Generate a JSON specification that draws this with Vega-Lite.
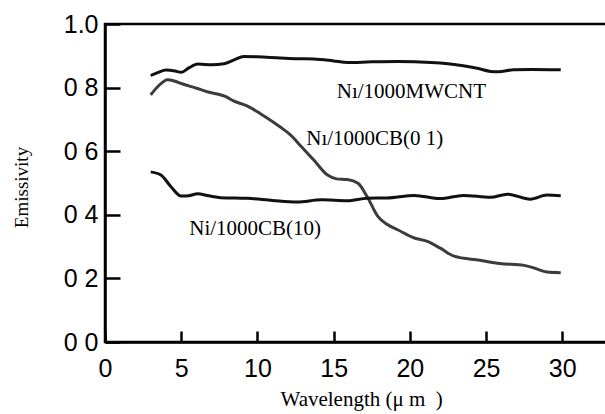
{
  "$schema": "https://vega.github.io/schema/vega-lite/v6.json",
  "autosize": "none",
  "width": 503,
  "height": 318,
  "padding": {"left": 105, "top": 24, "right": 0, "bottom": 72},
  "background": "white",
  "config": {"view": {"stroke": "black", "strokeWidth": 2.5}},
  "datasets": {
    "curves": [
      {"series": "MWCNT", "x": 3.0, "y": 0.838}, {"series": "MWCNT", "x": 3.5, "y": 0.848}, {"series": "MWCNT", "x": 4.0, "y": 0.855}, {"series": "MWCNT", "x": 4.6, "y": 0.852}, {"series": "MWCNT", "x": 5.0, "y": 0.848}, {"series": "MWCNT", "x": 5.5, "y": 0.862}, {"series": "MWCNT", "x": 6.1, "y": 0.874}, {"series": "MWCNT", "x": 7.0, "y": 0.872}, {"series": "MWCNT", "x": 7.8, "y": 0.875}, {"series": "MWCNT", "x": 8.5, "y": 0.888}, {"series": "MWCNT", "x": 9.1, "y": 0.898}, {"series": "MWCNT", "x": 10.0, "y": 0.897}, {"series": "MWCNT", "x": 11.5, "y": 0.893}, {"series": "MWCNT", "x": 12.5, "y": 0.891}, {"series": "MWCNT", "x": 13.7, "y": 0.89}, {"series": "MWCNT", "x": 15.0, "y": 0.884}, {"series": "MWCNT", "x": 15.9, "y": 0.879}, {"series": "MWCNT", "x": 17.5, "y": 0.881}, {"series": "MWCNT", "x": 19.2, "y": 0.882}, {"series": "MWCNT", "x": 21.4, "y": 0.879}, {"series": "MWCNT", "x": 22.5, "y": 0.875}, {"series": "MWCNT", "x": 23.5, "y": 0.869}, {"series": "MWCNT", "x": 24.5, "y": 0.86}, {"series": "MWCNT", "x": 25.3, "y": 0.851}, {"series": "MWCNT", "x": 25.8, "y": 0.85}, {"series": "MWCNT", "x": 26.8, "y": 0.856}, {"series": "MWCNT", "x": 28.0, "y": 0.857}, {"series": "MWCNT", "x": 29.9, "y": 0.856},
      {"series": "CB01", "x": 3.0, "y": 0.777}, {"series": "CB01", "x": 3.5, "y": 0.805}, {"series": "CB01", "x": 4.1, "y": 0.825}, {"series": "CB01", "x": 4.6, "y": 0.82}, {"series": "CB01", "x": 5.0, "y": 0.813}, {"series": "CB01", "x": 6.0, "y": 0.798}, {"series": "CB01", "x": 6.7, "y": 0.787}, {"series": "CB01", "x": 8.0, "y": 0.77}, {"series": "CB01", "x": 8.4, "y": 0.759}, {"series": "CB01", "x": 9.35, "y": 0.742}, {"series": "CB01", "x": 10.2, "y": 0.718}, {"series": "CB01", "x": 11.5, "y": 0.676}, {"series": "CB01", "x": 12.2, "y": 0.65}, {"series": "CB01", "x": 12.8, "y": 0.619}, {"series": "CB01", "x": 13.7, "y": 0.572}, {"series": "CB01", "x": 14.6, "y": 0.525}, {"series": "CB01", "x": 15.2, "y": 0.513}, {"series": "CB01", "x": 15.9, "y": 0.511}, {"series": "CB01", "x": 16.6, "y": 0.499}, {"series": "CB01", "x": 17.2, "y": 0.457}, {"series": "CB01", "x": 17.9, "y": 0.395}, {"series": "CB01", "x": 18.5, "y": 0.37}, {"series": "CB01", "x": 19.2, "y": 0.353}, {"series": "CB01", "x": 20.3, "y": 0.327}, {"series": "CB01", "x": 21.1, "y": 0.317}, {"series": "CB01", "x": 22.0, "y": 0.295}, {"series": "CB01", "x": 22.9, "y": 0.27}, {"series": "CB01", "x": 24.6, "y": 0.257}, {"series": "CB01", "x": 25.9, "y": 0.247}, {"series": "CB01", "x": 27.5, "y": 0.241}, {"series": "CB01", "x": 28.2, "y": 0.232}, {"series": "CB01", "x": 29.0, "y": 0.22}, {"series": "CB01", "x": 29.9, "y": 0.218},
      {"series": "CB10", "x": 3.0, "y": 0.535}, {"series": "CB10", "x": 3.67, "y": 0.525}, {"series": "CB10", "x": 4.3, "y": 0.49}, {"series": "CB10", "x": 5.0, "y": 0.459}, {"series": "CB10", "x": 5.5, "y": 0.46}, {"series": "CB10", "x": 6.07, "y": 0.466}, {"series": "CB10", "x": 6.8, "y": 0.46}, {"series": "CB10", "x": 7.6, "y": 0.454}, {"series": "CB10", "x": 9.35, "y": 0.452}, {"series": "CB10", "x": 11.0, "y": 0.445}, {"series": "CB10", "x": 12.6, "y": 0.44}, {"series": "CB10", "x": 14.2, "y": 0.447}, {"series": "CB10", "x": 15.9, "y": 0.444}, {"series": "CB10", "x": 17.2, "y": 0.452}, {"series": "CB10", "x": 18.5, "y": 0.453}, {"series": "CB10", "x": 20.3, "y": 0.461}, {"series": "CB10", "x": 22.0, "y": 0.451}, {"series": "CB10", "x": 23.5, "y": 0.461}, {"series": "CB10", "x": 25.3, "y": 0.455}, {"series": "CB10", "x": 26.4, "y": 0.465}, {"series": "CB10", "x": 27.9, "y": 0.449}, {"series": "CB10", "x": 29.0, "y": 0.462}, {"series": "CB10", "x": 29.9, "y": 0.46}
    ],
    "labels": [
      {"x": 20.1, "y": 0.767, "text": "Nı/1000MWCNT"},
      {"x": 17.7, "y": 0.619, "text": "Nı/1000CB(0 1)"},
      {"x": 9.85, "y": 0.336, "text": "Ni/1000CB(10)"}
    ]
  },
  "layer": [
    {
      "data": {"name": "curves"},
      "mark": {"type": "line", "interpolate": "monotone", "strokeWidth": 3},
      "encoding": {
        "x": {
          "field": "x", "type": "quantitative",
          "scale": {"domain": [0, 33], "nice": false, "zero": true},
          "axis": {
            "values": [0, 5, 10, 15, 20, 25, 30],
            "grid": false,
            "title": "Wavelength (μ m\u00a0\u00a0)",
            "titleFont": "Liberation Serif", "titleFontSize": 21, "titleFontWeight": "normal", "titleColor": "black",
            "titleX": 175, "titleY": 63, "titleAlign": "left", "titleBaseline": "alphabetic",
            "labelFont": "Liberation Sans", "labelFontSize": 25, "labelColor": "black",
            "labelPadding": 25, "labelFlush": false, "labelOverlap": false, "labelBound": false,
            "tickSize": -11, "tickWidth": 2.5, "tickColor": "black",
            "domainWidth": 2.5, "domainColor": "black"
          }
        },
        "y": {
          "field": "y", "type": "quantitative",
          "scale": {"domain": [0, 1], "nice": false},
          "axis": {
            "values": [0, 0.1, 0.2, 0.3, 0.4, 0.5, 0.6, 0.7, 0.8, 0.9, 1.0],
            "grid": false,
            "title": "Emissivity",
            "titleFont": "Liberation Serif", "titleFontSize": 19, "titleFontWeight": "normal", "titleColor": "black",
            "titleAngle": -90, "titleX": -78, "titleY": 163, "titleAlign": "center", "titleBaseline": "alphabetic",
            "labelFont": "Liberation Sans", "labelFontSize": 25, "labelColor": "black",
            "labelExpr": "round(datum.value*10)%2==1 ? '' : (round(datum.value*10)==10 ? '1.0' : '0 ' + round(datum.value*10))",
            "labelPadding": 22, "labelFlush": false, "labelOverlap": false, "labelBound": false,
            "tickSize": {"condition": {"test": "round(datum.value*10)%2==1", "value": -8}, "value": -15},
            "tickWidth": 2.5, "tickColor": "black",
            "domainWidth": 2.5, "domainColor": "black"
          }
        },
        "color": {
          "field": "series", "type": "nominal",
          "scale": {"domain": ["MWCNT", "CB01", "CB10"], "range": ["#111111", "#3c3c3c", "#111111"]},
          "legend": null
        }
      }
    },
    {
      "data": {"name": "labels"},
      "mark": {"type": "text", "font": "Liberation Serif", "fontSize": 21, "align": "center", "baseline": "alphabetic", "color": "black"},
      "encoding": {
        "x": {"field": "x", "type": "quantitative"},
        "y": {"field": "y", "type": "quantitative"},
        "text": {"field": "text"}
      }
    }
  ]
}
